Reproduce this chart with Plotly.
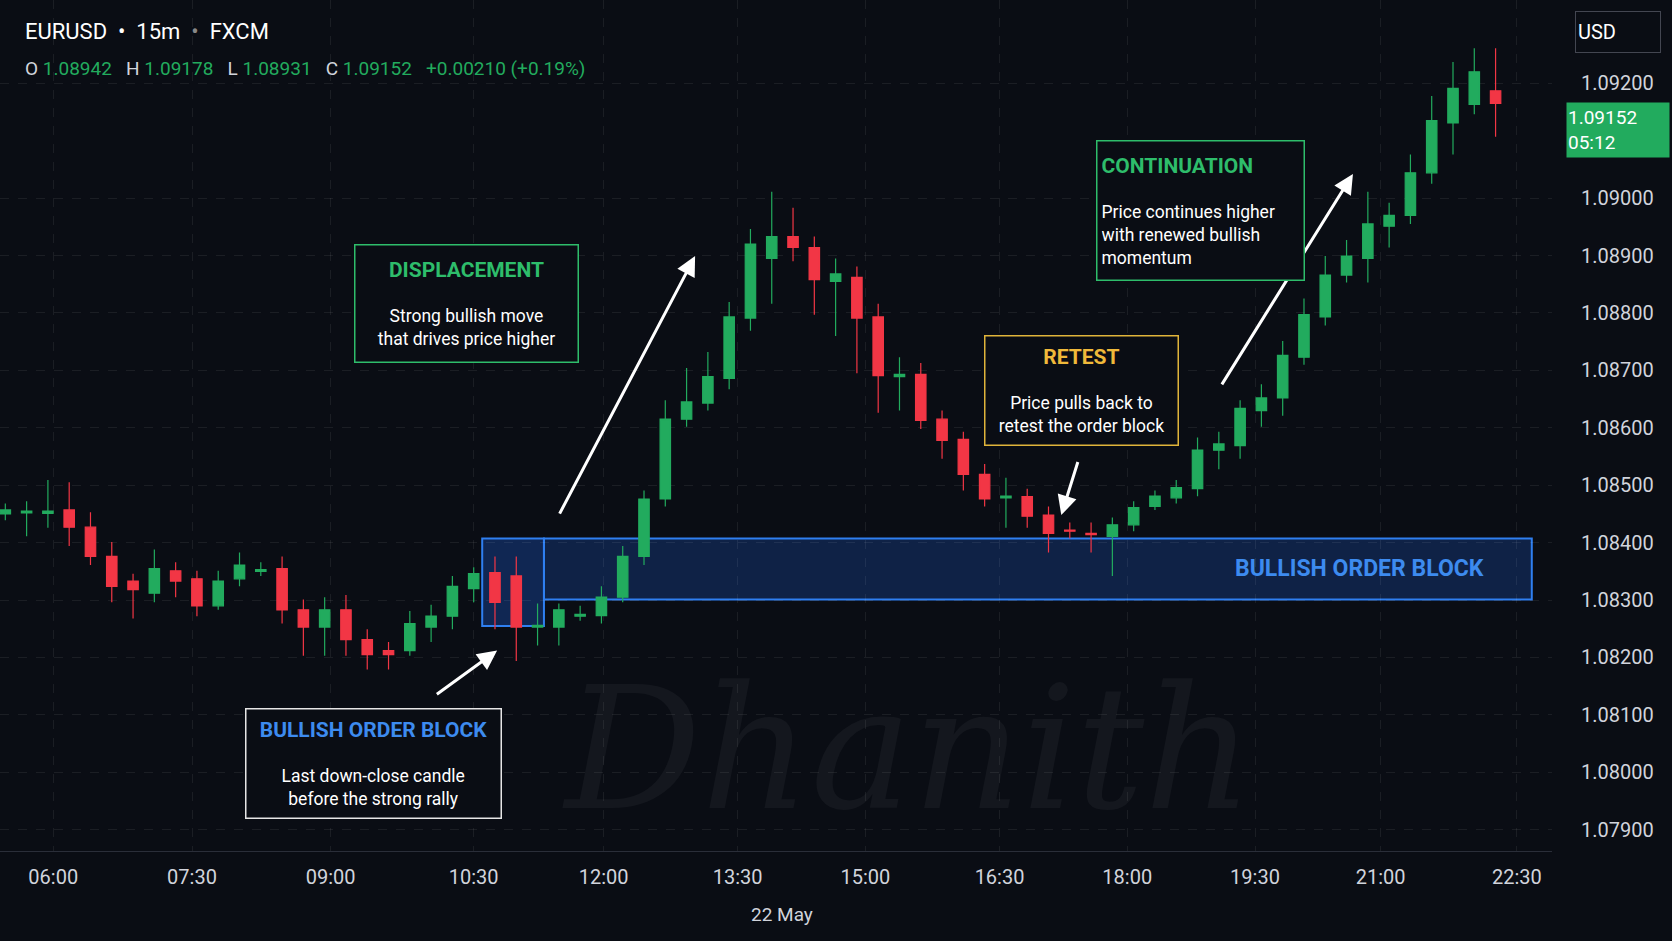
import plotly.graph_objects as go

# EURUSD 15m candles (bar index on x)
opens = [1.08450, 1.08452, 1.08451, 1.08457, 1.08427, 1.08376, 1.08333, 1.08312, 1.08351, 1.08337,
         1.08290, 1.08337, 1.08350, 1.08355, 1.08283, 1.08253, 1.08283, 1.08231, 1.08212, 1.08212,
         1.08253, 1.08272, 1.08320, 1.08348, 1.08342, 1.08253, 1.08253, 1.08272, 1.08273, 1.08305,
         1.08376, 1.08476, 1.08615, 1.08643, 1.08686, 1.08791, 1.08895, 1.08933, 1.08914, 1.08855,
         1.08862, 1.08793, 1.08689, 1.08693, 1.08615, 1.08580, 1.08519, 1.08478, 1.08480, 1.08448,
         1.08422, 1.08416, 1.08411, 1.08431, 1.08463, 1.08478, 1.08494, 1.08561, 1.08569, 1.08630,
         1.08652, 1.08723, 1.08793, 1.08866, 1.08895, 1.08951, 1.08970, 1.09044, 1.09131, 1.09163,
         1.09187]
highs = [1.08468, 1.08472, 1.08509, 1.08505, 1.08453, 1.08401, 1.08346, 1.08388, 1.08366, 1.08351,
         1.08351, 1.08383, 1.08366, 1.08376, 1.08301, 1.08305, 1.08309, 1.08249, 1.08227, 1.08281,
         1.08292, 1.08342, 1.08357, 1.08376, 1.08376, 1.08294, 1.08294, 1.08290, 1.08324, 1.08394,
         1.08491, 1.08648, 1.08704, 1.08732, 1.08819, 1.08946, 1.09011, 1.08983, 1.08933, 1.08895,
         1.08881, 1.08816, 1.08723, 1.08713, 1.08630, 1.08593, 1.08537, 1.08513, 1.08494, 1.08463,
         1.08435, 1.08435, 1.08444, 1.08472, 1.08491, 1.08509, 1.08583, 1.08593, 1.08648, 1.08676,
         1.08751, 1.08825, 1.08899, 1.08927, 1.09011, 1.08992, 1.09076, 1.09178, 1.09237, 1.09261,
         1.09261]
lows = [1.08439, 1.08411, 1.08426, 1.08394, 1.08361, 1.08296, 1.08268, 1.08296, 1.08305, 1.08272,
        1.08283, 1.08324, 1.08342, 1.08259, 1.08203, 1.08203, 1.08203, 1.08179, 1.08179, 1.08203,
        1.08227, 1.08249, 1.08296, 1.08249, 1.08194, 1.08221, 1.08221, 1.08264, 1.08259, 1.08296,
        1.08361, 1.08463, 1.08602, 1.08630, 1.08667, 1.08769, 1.08816, 1.08890, 1.08797, 1.08760,
        1.08695, 1.08626, 1.08630, 1.08598, 1.08546, 1.08491, 1.08463, 1.08426, 1.08426, 1.08383,
        1.08407, 1.08383, 1.08342, 1.08420, 1.08457, 1.08468, 1.08481, 1.08528, 1.08546, 1.08602,
        1.08621, 1.08710, 1.08778, 1.08853, 1.08853, 1.08914, 1.08955, 1.09025, 1.09076, 1.09146,
        1.09107]
closes = [1.08457, 1.08455, 1.08455, 1.08427, 1.08376, 1.08324, 1.08318, 1.08355, 1.08333, 1.08290,
          1.08333, 1.08361, 1.08353, 1.08283, 1.08253, 1.08283, 1.08231, 1.08205, 1.08205, 1.08259,
          1.08272, 1.08324, 1.08346, 1.08296, 1.08253, 1.08256, 1.08283, 1.08275, 1.08305, 1.08376,
          1.08476, 1.08615, 1.08645, 1.08689, 1.08793, 1.08920, 1.08933, 1.08914, 1.08858, 1.08868,
          1.08791, 1.08691, 1.08693, 1.08613, 1.08578, 1.08519, 1.08476, 1.08481, 1.08446, 1.08416,
          1.08420, 1.08414, 1.08431, 1.08461, 1.08481, 1.08496, 1.08561, 1.08572, 1.08634, 1.08652,
          1.08726, 1.08797, 1.08866, 1.08899, 1.08955, 1.08970, 1.09044, 1.09135, 1.09191, 1.09220,
          1.09165]
bars = list(range(len(opens)))

# time axis labels and where they sit in bar units
time_labels = ["06:00", "07:30", "09:00", "10:30", "12:00", "13:30", "15:00", "16:30",
               "18:00", "19:30", "21:00", "22:30"]
time_pos = [2.25, 8.77, 15.28, 22.0, 28.1, 34.4, 40.4, 46.7, 52.7, 58.7, 64.6, 71.0]
# 1.091 is hidden behind the live price label
price_ticks = [1.079, 1.080, 1.081, 1.082, 1.083, 1.084, 1.085, 1.086, 1.087, 1.088, 1.089, 1.090, 1.092]

# zones (bar index, price)
ob_zone = dict(x0=25.3, x1=71.7, y0=1.08301, y1=1.08407)
ob_candle = dict(x0=22.4, x1=25.3, y0=1.08255, y1=1.08407)

GREEN = "#22ab5e"
RED = "#f23645"
BG = "#0a0d14"
TXT = "#d1d4dc"

fig = go.Figure()
fig.add_trace(go.Candlestick(
    x=bars, open=opens, high=highs, low=lows, close=closes,
    increasing=dict(line=dict(color=GREEN, width=1.2), fillcolor=GREEN),
    decreasing=dict(line=dict(color=RED, width=1.2), fillcolor=RED),
    whiskerwidth=0, showlegend=False, hoverinfo="skip",
))

# order block zones
fig.add_shape(type="rect", xref="x", yref="y", **ob_zone,
              line=dict(color="#2f7ff0", width=2), fillcolor="rgba(30,90,200,0.28)", layer="below")
fig.add_shape(type="rect", xref="x", yref="y", **ob_candle,
              line=dict(color="#2f7ff0", width=2), fillcolor="rgba(30,90,200,0.35)", layer="below")
fig.add_annotation(x=63.6, y=1.08355, xref="x", yref="y", text="<b>BULLISH ORDER BLOCK</b>",
                   showarrow=False, font=dict(size=23, color="#3d8bef", family="Roboto"))

# arrows: (head x, head y, tail x, tail y)
arrows = [(32.4, 1.08899, 26.0, 1.08448), (23.1, 1.08212, 20.2, 1.08134),
          (49.6, 1.08448, 50.4, 1.08543), (63.3, 1.09042, 57.1, 1.08673)]
for hx, hy, tx, ty in arrows:
    fig.add_annotation(x=hx, y=hy, ax=tx, ay=ty, xref="x", yref="y", axref="x", ayref="y",
                       showarrow=True, arrowhead=2, arrowsize=1.3, arrowwidth=3, arrowcolor="white",
                       text="")

# watermark
fig.add_annotation(x=0.585, y=0.12, xref="paper", yref="paper", text="<i>Dhanith</i>",
                   xanchor="center", yanchor="middle",
                   showarrow=False, font=dict(size=170, color="rgba(255,255,255,0.045)",
                                              family="DejaVu Serif"))

def box(x, y, w, h, title, tcolor, body, border, align="center"):
    fig.add_annotation(
        x=x, y=y, xref="paper", yref="paper", xanchor="center", yanchor="middle",
        showarrow=False, width=w, height=h,
        align=align, valign="middle", bordercolor=border, borderwidth=1.5, borderpad=4,
        bgcolor=BG,
        text=f"<b><span style='color:{tcolor};font-size:21px'>{title}</span></b><br>"
             f"<span style='font-size:3px'> </span><br>{body}",
        font=dict(size=17.5, color="white", family="Roboto"))

box(0.3003, 0.643, 214, 108, "DISPLACEMENT", "#2ebd6b",
    "Strong bullish move<br>that drives price higher", "#2ebd6b")
box(0.697, 0.5414, 184, 100, "RETEST", "#f0b93a",
    "Price pulls back to<br>retest the order block", "#e0b43a")
box(0.7732, 0.7531, 198, 130, "CONTINUATION", "#2ebd6b",
    "Price continues higher<br>with renewed bullish<br>momentum", "#2ebd6b", align="left")
box(0.2405, 0.1028, 246, 100, "BULLISH ORDER BLOCK", "#3d8bef",
    "Last down-close candle<br>before the strong rally", "#e6e6e6")

# header
fig.add_annotation(x=0.015, y=0.963, xref="paper", yref="paper", xanchor="left", yanchor="middle",
                   showarrow=False,
                   text="EURUSD  •  15m  <span style='color:#888'>•</span>  FXCM",
                   font=dict(size=22, color="white", family="Roboto"))
fig.add_annotation(x=0.015, y=0.919, xref="paper", yref="paper", xanchor="left", yanchor="middle",
                   showarrow=False,
                   text=f"O <span style='color:{GREEN}'>1.08942</span>   H <span style='color:{GREEN}'>1.09178</span>"
                        f"   L <span style='color:{GREEN}'>1.08931</span>   C <span style='color:{GREEN}'>1.09152</span>"
                        f"   <span style='color:{GREEN}'>+0.00210 (+0.19%)</span>",
                   font=dict(size=19, color=TXT, family="Roboto"))
fig.add_annotation(x=1.0426, y=0.962, xref="paper", yref="paper", xanchor="center", yanchor="middle",
                   showarrow=False, text="USD",
                   width=80, height=36, align="left", bordercolor="#434651", borderwidth=1, borderpad=2,
                   font=dict(size=20, color="white", family="Roboto"))
fig.add_annotation(x=1.0, y=0.847, xref="paper", yref="paper", xanchor="left", yanchor="middle",
                   xshift=14, showarrow=False,
                   text="1.09152<br>05:12", width=100, height=52, align="left", bgcolor=GREEN,
                   font=dict(size=19, color="white", family="Roboto"))
fig.add_annotation(x=0.504, y=-0.075, xref="paper", yref="paper", xanchor="center", yanchor="middle",
                   showarrow=False, text="22 May",
                   font=dict(size=19, color=TXT, family="Roboto"))

fig.update_layout(
    width=1672, height=941, paper_bgcolor=BG, plot_bgcolor=BG,
    margin=dict(l=0, r=120, t=0, b=90),
    font=dict(family="Roboto", color=TXT),
    xaxis=dict(range=[-0.25, 72.65], tickvals=time_pos, ticktext=time_labels,
               tickfont=dict(size=20, color=TXT), showgrid=True, ticklabelstandoff=8,
               gridcolor="rgba(255,255,255,0.07)", griddash="dash", rangeslider=dict(visible=False),
               zeroline=False, showline=True, linecolor="#2a2e39", ticks=""),
    yaxis=dict(range=[1.07863, 1.09345], side="right", tickvals=price_ticks, tickformat=".5f",
               tickfont=dict(size=20, color=TXT), showgrid=True,
               gridcolor="rgba(255,255,255,0.07)", griddash="dash", zeroline=False, ticks="",
               ticklabelstandoff=28),
)

fig.write_html("out.html", config={"displayModeBar": False},
               post_script="document.body.style.margin='0';document.body.style.background='#0a0d14';")
